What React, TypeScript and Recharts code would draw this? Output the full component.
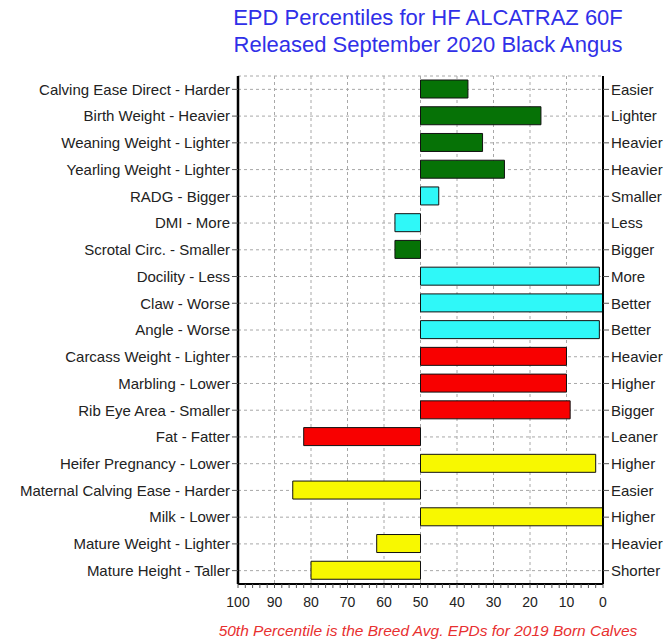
import { BarChart, Bar, XAxis, YAxis, CartesianGrid, Cell } from "recharts";

const categories = [
  "Calving Ease Direct - Harder",
  "Birth Weight - Heavier",
  "Weaning Weight - Lighter",
  "Yearling Weight - Lighter",
  "RADG - Bigger",
  "DMI - More",
  "Scrotal Circ. - Smaller",
  "Docility - Less",
  "Claw - Worse",
  "Angle - Worse",
  "Carcass Weight - Lighter",
  "Marbling - Lower",
  "Rib Eye Area - Smaller",
  "Fat - Fatter",
  "Heifer Pregnancy - Lower",
  "Maternal Calving Ease - Harder",
  "Milk - Lower",
  "Mature Weight - Lighter",
  "Mature Height - Taller",
];

const favorable = [
  "Easier", "Lighter", "Heavier", "Heavier", "Smaller", "Less", "Bigger",
  "More", "Better", "Better", "Heavier", "Higher", "Bigger", "Leaner",
  "Higher", "Easier", "Higher", "Heavier", "Shorter",
];

const percentiles = [37, 17, 33, 27, 45, 57, 57, 1, 0, 1, 10, 10, 9, 82, 2, 85, 0, 62, 80];

const GREEN = "#067206";
const CYAN = "#2ff8f8";
const RED = "#f80000";
const YELLOW = "#f8f800";

const barColors = [
  GREEN, GREEN, GREEN, GREEN, CYAN, CYAN, GREEN, CYAN, CYAN, CYAN,
  RED, RED, RED, RED, YELLOW, YELLOW, YELLOW, YELLOW, YELLOW,
];

const axisTicks = Array.from({ length: 51 }, (_, i) => i * 2);
const gridTicks = [90, 80, 70, 60, 50, 40, 30, 20, 10];

const data = categories.map((name, i) => ({
  name,
  right: favorable[i],
  pct: percentiles[i],
}));

const FONT = "'Liberation Sans', Arial, sans-serif";

function BottomTick({ x, y, payload }: any) {
  if (payload.value % 10 !== 0) return <g />;
  return (
    <text x={x} y={y + 17} textAnchor="middle" fill="#222" fontSize={14} fontFamily={FONT}>
      {payload.value}
    </text>
  );
}

// vertical grid at every 10, mapped through the plot area (axis is reversed: 100 on the left)
const gridX = ({ offset }: any) => {
  const left = offset?.left ?? 238;
  const w = offset?.width ?? 365;
  return gridTicks.map((v) => left + (w * (100 - v)) / 100);
};

export default function App() {
  return (
    <div style={{ position: "absolute", left: 0, top: 0, width: 667, height: 643, background: "#fff", fontFamily: FONT }}>
      <div style={{ position: "absolute", left: 150, width: 556, top: 4, textAlign: "center", color: "#3030e8", fontSize: 22, lineHeight: "27px" }}>
        EPD Percentiles for HF ALCATRAZ 60F
        <br />
        Released September 2020 Black Angus
      </div>
      <BarChart
        width={667}
        height={643}
        data={data}
        layout="vertical"
        margin={{ top: 76, right: 0, bottom: 29, left: 0 }}
        barSize={18}
      >
        <CartesianGrid stroke="#a8a8a8" strokeDasharray="3 3" verticalCoordinatesGenerator={gridX} />
        <XAxis
          type="number"
          domain={[0, 100]}
          reversed
          ticks={axisTicks}
          interval={0}
          tick={<BottomTick />}
          tickSize={4}
          tickLine={{ stroke: "#555" }}
          axisLine={{ stroke: "#000", strokeWidth: 2 }}
          height={30}
        />
        <XAxis
          xAxisId="top"
          type="number"
          orientation="top"
          domain={[0, 100]}
          reversed
          tick={false}
          tickLine={false}
          axisLine={{ stroke: "#000", strokeWidth: 1.5 }}
          height={0}
        />
        <YAxis
          type="category"
          dataKey="name"
          width={238}
          interval={0}
          tickSize={6}
          tickLine={{ stroke: "#555" }}
          axisLine={{ stroke: "#000", strokeWidth: 2.5 }}
          tick={{ fill: "#222", fontSize: 15, fontFamily: FONT }}
        />
        <YAxis
          yAxisId="right"
          type="category"
          dataKey="name"
          orientation="right"
          width={64}
          interval={0}
          tickSize={6}
          tickLine={{ stroke: "#555" }}
          axisLine={{ stroke: "#000", strokeWidth: 2 }}
          tick={{ fill: "#222", fontSize: 15, fontFamily: FONT }}
          tickFormatter={(_v: any, i: number) => favorable[i]}
        />
        <Bar dataKey={(d: any) => [50, d.pct]} stroke="#111" strokeWidth={1} isAnimationActive={false}>
          {data.map((_, i) => (
            <Cell key={i} fill={barColors[i]} />
          ))}
        </Bar>
      </BarChart>
      <div style={{ position: "absolute", left: 150, width: 556, top: 622, textAlign: "center", color: "#e83030", fontSize: 15.5, fontStyle: "italic" }}>
        50th Percentile is the Breed Avg. EPDs for 2019 Born Calves
      </div>
    </div>
  );
}
